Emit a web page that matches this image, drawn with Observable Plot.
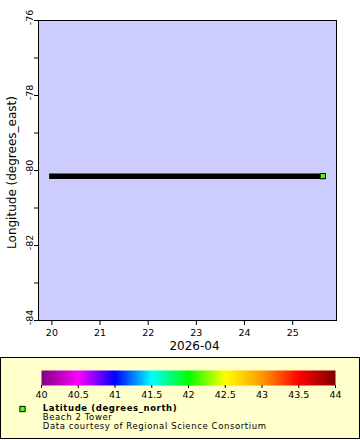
<!DOCTYPE html>
<html><head><meta charset="utf-8">
<script src="https://cdn.jsdelivr.net/npm/d3@7"></script>
<script src="https://cdn.jsdelivr.net/npm/@observablehq/plot@0.6"></script>
<style>
html,body{margin:0;padding:0;background:#fff;}
body{width:360px;height:440px;overflow:hidden;font-family:"DejaVu Sans",sans-serif;}
#legend{box-sizing:border-box;width:360px;height:82px;border:1px solid #000;background:#ffffcc;}
#legend .legtext text, #legend g.legtext{letter-spacing:0.6px;}
svg{display:block}
</style></head><body>
<div id="chart"></div><div id="legend"></div>
<script>
// Observation times (UTC)
const times = ["2026-04-20T00:00:00Z","2026-04-21T00:00:00Z","2026-04-22T00:00:00Z","2026-04-23T00:00:00Z","2026-04-24T00:00:00Z","2026-04-25T00:00:00Z","2026-04-25T15:00:00Z"];
const longitudes = [-80.15,-80.15,-80.15,-80.15,-80.15,-80.15,-80.15];
const latitudes = [42.15,42.15,42.15,42.15,42.15,42.15,42.15];
const xDomain = ["2026-04-19T17:20:00Z","2026-04-25T21:50:00Z"];
const xTicks = ["2026-04-20T00:00:00Z","2026-04-21T00:00:00Z","2026-04-22T00:00:00Z","2026-04-23T00:00:00Z","2026-04-24T00:00:00Z","2026-04-25T00:00:00Z"];
const yDomain = [-84,-76];
const yTicks = [-84,-82,-80,-78,-76];
const yMinorTicks = [-83,-81,-79,-77];
const colorStops = [40,40.5,41,41.5,42,42.5,43,43.5,44];
const colorRange = ["#800080","#ff00ff","#0000ff","#00ffff","#00ff00","#ffff00","#ff9900","#ff0000","#800000"];
const legendTicks = [40,40.5,41,41.5,42,42.5,43,43.5,44];
const xLabel = "2026-04";
const yLabel = "Longitude (degrees_east)";
const legendLines = ["Latitude (degrees_north)","Beach 2 Tower","Data courtesy of Regional Science Consortium"];

const data = times.map((t,i)=>({time:new Date(t), lon:longitudes[i], lat:latitudes[i]}));
const last = data[data.length-1];
const colorScale = {type:"linear", domain:colorStops, range:colorRange};
const font = "DejaVu Sans";

const chart = Plot.plot({
  width:360, height:357, marginLeft:38, marginRight:24, marginTop:20, marginBottom:37,
  style:{fontFamily:font, fontSize:"9.5px", color:"#000", background:"#fff", overflow:"visible"},
  x:{type:"utc", domain:xDomain.map(d=>new Date(d))},
  y:{domain:yDomain},
  color:colorScale,
  marks:[
    Plot.frame({fill:"#ccccff"}),
    Plot.line(data,{x:"time",y:"lon",stroke:"black",strokeWidth:5.5,strokeLinecap:"square"}),
    Plot.dot([last],{x:"time",y:"lon",fill:"lat",stroke:"black",symbol:"square",r:3,strokeWidth:1}),
    Plot.frame({stroke:"black"}),
    Plot.axisX({ticks:xTicks.map(d=>new Date(d)), tickFormat:d3.utcFormat("%-d"), tickSize:5, tickPadding:4, label:null}),
    Plot.axisY({ticks:yTicks, tickSize:4, tickFormat:()=>"", label:null}),
    Plot.axisY({ticks:yMinorTicks, tickSize:4, tickFormat:()=>"", label:null}),
    Plot.text(yTicks, {y:d=>d, text:d=>String(d), frameAnchor:"left", rotate:-90, textAnchor:"middle", lineAnchor:"middle", dx:-8.7, dy:-3}),
    Plot.text([xLabel], {frameAnchor:"bottom", textAnchor:"middle", lineAnchor:"middle", dx:7, dy:26, fontSize:12}),
    Plot.text([yLabel], {frameAnchor:"left", rotate:-90, textAnchor:"middle", lineAnchor:"middle", dx:-26, dy:2, fontSize:12})
  ]
});
document.getElementById("chart").appendChild(chart);

const legend = Plot.plot({
  width:358, height:80, marginLeft:40, marginRight:24, marginTop:12, marginBottom:53,
  style:{fontFamily:font, fontSize:"9.5px", color:"#000", background:"transparent", overflow:"visible"},
  x:{domain:[40,44]},
  y:{domain:[0,1], axis:null},
  color:colorScale,
  marks:[
    Plot.raster({x1:40, x2:44, y1:0, y2:1, width:294, height:1, fill:(x,y)=>x}),
    Plot.axisX({ticks:legendTicks, tickSize:3, tickPadding:3, tickFormat:d=>String(d), label:null}),
    Plot.dot(latitudes.slice(-1), {frameAnchor:"bottom-left", dx:-19, dy:23.5, fill:d=>d, stroke:"black", symbol:"square", r:3, strokeWidth:1}),
    Plot.text([legendLines[0]], {className:"legtext", frameAnchor:"bottom-left", textAnchor:"start", lineAnchor:"middle", dx:1.3, dy:23.2, fontSize:8.5, fontWeight:"bold"}),
    Plot.text([legendLines[1]], {className:"legtext", frameAnchor:"bottom-left", textAnchor:"start", lineAnchor:"middle", dx:1.3, dy:32.2, fontSize:8.5}),
    Plot.text([legendLines[2]], {className:"legtext", frameAnchor:"bottom-left", textAnchor:"start", lineAnchor:"middle", dx:1.3, dy:40.9, fontSize:8.5})
  ]
});
document.getElementById("legend").appendChild(legend);
</script>
</body></html>
